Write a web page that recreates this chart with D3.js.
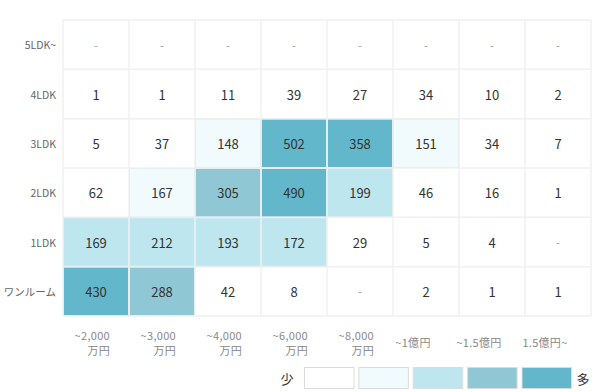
<!DOCTYPE html>
<html><head><meta charset="utf-8">
<script src="https://cdn.jsdelivr.net/npm/d3@7"></script>
<style>body{margin:0;background:#fff;font-family:"Noto Sans CJK JP","Noto Sans",sans-serif;}</style>
</head><body><svg id="c" width="604" height="392"></svg>
<script>
const layouts = ["5LDK~","4LDK","3LDK","2LDK","1LDK","ワンルーム"];
const priceLabels = [["~2,000","万円"],["~3,000","万円"],["~4,000","万円"],["~6,000","万円"],["~8,000","万円"],["~1億円"],["~1.5億円"],["1.5億円~"]];
const row5LDK = [null,null,null,null,null,null,null,null];
const row4LDK = [1,1,11,39,27,34,10,2];
const row3LDK = [5,37,148,502,358,151,34,7];
const row2LDK = [62,167,305,490,199,46,16,1];
const row1LDK = [169,212,193,172,29,5,4,null];
const rowOneRoom = [430,288,42,8,null,2,1,1];
const rows = [row5LDK,row4LDK,row3LDK,row2LDK,row1LDK,rowOneRoom];
const thresholds = [100,168,250,350];
const colors = ["#ffffff","#f1fbfd","#bde6ef","#8fc8d4","#62b7cb"];
const legendLow = "少", legendHigh = "多";

const svg = d3.select("#c");
const M = {l:63, r:591, t:20, b:316};
const cols = d3.range(priceLabels.length);
const x = d3.scaleBand().domain(cols).range([M.l, M.r]);
const y = d3.scaleBand().domain(layouts).range([M.t, M.b]);
const color = d3.scaleThreshold().domain(thresholds).range(colors);

// grid
const g = svg.append("g");
g.selectAll("line.v").data(d3.range(cols.length+1)).join("line")
  .attr("x1", i => M.l + i*x.bandwidth()).attr("x2", i => M.l + i*x.bandwidth())
  .attr("y1", M.t).attr("y2", M.b).attr("stroke","#f0f0f0").attr("stroke-width",1.5);
g.selectAll("line.h").data(d3.range(layouts.length+1)).join("line")
  .attr("y1", i => M.t + i*y.bandwidth()).attr("y2", i => M.t + i*y.bandwidth())
  .attr("x1", M.l).attr("x2", M.r).attr("stroke","#f0f0f0").attr("stroke-width",1.5);

const cells = [];
rows.forEach((r,ri)=>r.forEach((v,ci)=>cells.push({row:layouts[ri], col:ci, v})));

svg.append("g").selectAll("rect").data(cells.filter(d=>d.v!=null && color(d.v)!=="#ffffff")).join("rect")
  .attr("x", d=>x(d.col)+0.5).attr("y", d=>y(d.row)+0.5)
  .attr("width", x.bandwidth()-1).attr("height", y.bandwidth()-1)
  .attr("fill", d=>color(d.v)).attr("stroke","#e6eef0").attr("stroke-width",1);

svg.append("g").selectAll("text").data(cells).join("text")
  .attr("x", d=>x(d.col)+x.bandwidth()/2).attr("y", d=>y(d.row)+y.bandwidth()/2)
  .attr("text-anchor","middle").attr("dominant-baseline","central")
  .attr("font-size", d=>d.v==null?11:13).attr("fill", d=>d.v==null?"#999":"#333")
  .text(d=>d.v==null?"-":d.v);

// y axis labels
svg.append("g").selectAll("text").data(layouts).join("text")
  .attr("x", M.l-7).attr("y", d=>y(d)+y.bandwidth()/2)
  .attr("text-anchor","end").attr("dominant-baseline","central")
  .attr("font-size",10.5).attr("fill","#666").text(d=>d);

// x axis labels
const xl = svg.append("g").selectAll("text").data(cols).join("text")
  .attr("font-size",11).attr("fill","#888").attr("letter-spacing","0.3px")
  .attr("text-anchor", i=>priceLabels[i].length>1?"end":"middle")
  .attr("x", i=>x(i)+x.bandwidth()/2 + (priceLabels[i].length>1?14:-13))
  .attr("y", i=>priceLabels[i].length>1?340:347);
xl.selectAll("tspan").data(i=>priceLabels[i].map(t=>({t,i}))).join("tspan")
  .attr("x", d=>x(d.i)+x.bandwidth()/2 + (priceLabels[d.i].length>1?14:-13))
  .attr("dy",(d,k)=>k===0?0:15).text(d=>d.t);

// legend
const lg = svg.append("g");
const lx = d3.scaleBand().domain(d3.range(colors.length)).range([304,571]).paddingInner(0.09);
lg.selectAll("rect").data(colors).join("rect")
  .attr("x",(d,i)=>lx(i)+0.5).attr("y",367.5).attr("width",lx.bandwidth()).attr("height",21)
  .attr("fill",d=>d).attr("stroke","#dcdcdc");
lg.append("text").attr("x",287).attr("y",378).attr("text-anchor","middle").attr("dominant-baseline","central")
  .attr("font-size",13).attr("fill","#333").text(legendLow);
lg.append("text").attr("x",583).attr("y",378).attr("text-anchor","middle").attr("dominant-baseline","central")
  .attr("font-size",13).attr("fill","#333").text(legendHigh);
</script></body></html>
